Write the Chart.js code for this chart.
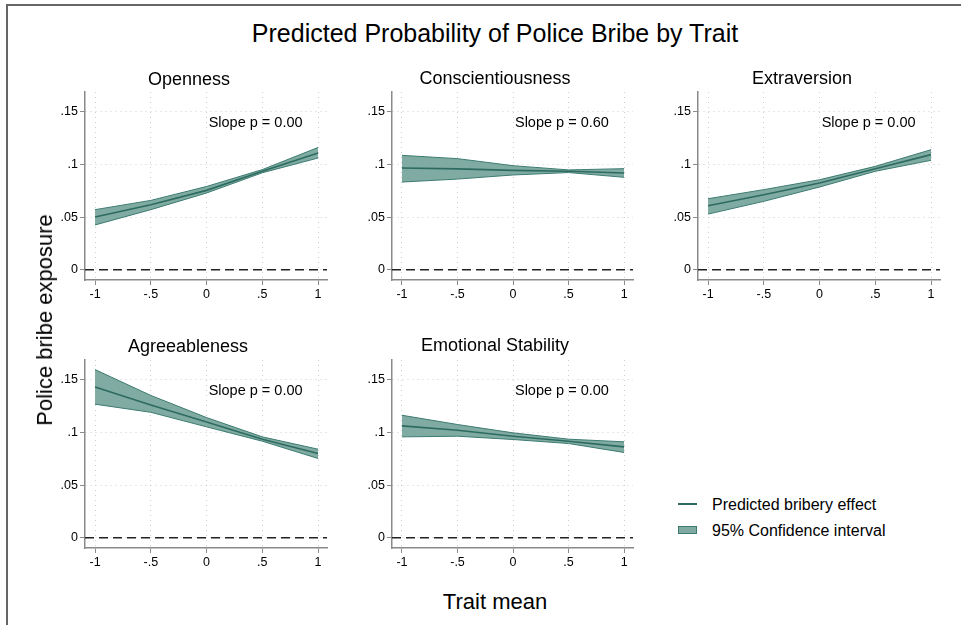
<!DOCTYPE html>
<html><head><meta charset="utf-8">
<script src="https://cdn.jsdelivr.net/npm/chart.js@4.4.0/dist/chart.umd.min.js"></script>
<style>
body{margin:0;background:#fff;width:961px;height:625px;overflow:hidden;position:relative;font-family:"Liberation Sans",Arial,Helvetica,sans-serif;}
.frame{position:absolute;left:6px;top:4px;width:970px;height:640px;border-left:2px solid #666;border-top:2px solid #666;}
.panel{position:absolute;}
.txt{position:absolute;white-space:nowrap;color:#000;transform:translate(-50%,-50%);z-index:5;line-height:1;}
.leg{position:absolute;white-space:nowrap;color:#000;font-size:16px;line-height:1;transform:translateY(-50%);z-index:5;}
</style></head><body>
<div class="frame"></div>
<div class="txt" style="left:495px;top:33px;font-size:25px;">Predicted Probability of Police Bribe by Trait</div>
<div class="txt" style="left:45px;top:320px;font-size:22px;transform:translate(-50%,-50%) rotate(-90deg);">Police bribe exposure</div>
<div class="txt" style="left:495px;top:602px;font-size:22px;">Trait mean</div>
<div id="titles"></div>
<canvas id="c0" class="panel" width="296" height="225" style="left:35px;top:80px;"></canvas>
<canvas id="c1" class="panel" width="295" height="225" style="left:342px;top:80px;"></canvas>
<canvas id="c2" class="panel" width="296" height="225" style="left:648px;top:80px;"></canvas>
<canvas id="c3" class="panel" width="296" height="225" style="left:35px;top:348px;"></canvas>
<canvas id="c4" class="panel" width="295" height="225" style="left:342px;top:348px;"></canvas>
<div style="position:absolute;left:678px;top:503px;width:19px;height:2px;background:#2d6b60;"></div>
<div class="leg" style="left:712px;top:505px;">Predicted bribery effect</div>
<div style="position:absolute;left:678px;top:526px;width:17px;height:6px;background:#80aba2;border:1px solid #3b7b70;"></div>
<div class="leg" style="left:712px;top:531px;">95% Confidence interval</div>
<script>
// ---- data ----
const traitX = [-1, -0.5, 0, 0.5, 1];
const xTickLabels = ['-1', '-.5', '0', '.5', '1'];
const yTicks = [0, 0.05, 0.1, 0.15];
const yTickLabels = ['0', '.05', '.1', '.15'];
const traits = ['Openness', 'Conscientiousness', 'Extraversion', 'Agreeableness', 'Emotional Stability'];
const slopeP = ['0.00', '0.60', '0.00', '0.00', '0.00'];

const opennessFit = [0.0500, 0.0617, 0.0753, 0.0934, 0.1108];
const opennessLo  = [0.0425, 0.0570, 0.0728, 0.0920, 0.1060];
const opennessHi  = [0.0570, 0.0658, 0.0790, 0.0950, 0.1160];

const conscFit = [0.0965, 0.0957, 0.0943, 0.0934, 0.0918];
const conscLo  = [0.0832, 0.0860, 0.0899, 0.0922, 0.0877];
const conscHi  = [0.1085, 0.1054, 0.0987, 0.0947, 0.0959];

const extraFit = [0.0608, 0.0712, 0.0823, 0.0959, 0.1092];
const extraLo  = [0.0528, 0.0649, 0.0785, 0.0934, 0.1038];
const extraHi  = [0.0674, 0.0760, 0.0854, 0.0981, 0.1139];

const agreeFit = [0.1431, 0.1260, 0.1099, 0.0935, 0.0799];
const agreeLo  = [0.1267, 0.1190, 0.1052, 0.0916, 0.0752];
const agreeHi  = [0.1595, 0.1350, 0.1140, 0.0957, 0.0840];

const emoFit = [0.1061, 0.1020, 0.0963, 0.0916, 0.0862];
const emoLo  = [0.0957, 0.0963, 0.0932, 0.0894, 0.0809];
const emoHi  = [0.1162, 0.1074, 0.0995, 0.0935, 0.0910];

const fits = [opennessFit, conscFit, extraFit, agreeFit, emoFit];
const los = [opennessLo, conscLo, extraLo, agreeLo, emoLo];
const his = [opennessHi, conscHi, extraHi, agreeHi, emoHi];

// ---- styles / layout ----
const FONT = 'Liberation Sans, Arial, Helvetica, sans-serif';
Chart.defaults.font.family = FONT;
const LINE = '#2d6b60', EDGE = '#3b7b70', FILL = '#80aba2';
const AXIS = '#8a8a8a', GRID = '#cfcfcf';
const titlePos = [[189, 79], [495, 78], [802, 78], [188, 346], [495, 345]];
const slopeAt = {x: 0.44, y: 0.139};

const titles = document.getElementById('titles');
traits.forEach((t, i) => {
  const d = document.createElement('div');
  d.className = 'txt';
  d.style.cssText = `left:${titlePos[i][0]}px;top:${titlePos[i][1]}px;font-size:18px;`;
  d.textContent = t;
  titles.appendChild(d);
});

const zeroLine = {
  id: 'zeroLine',
  beforeDatasetsDraw(chart) {
    const {ctx, chartArea, scales} = chart;
    const y = scales.y.getPixelForValue(0);
    ctx.save();
    ctx.strokeStyle = '#222';
    ctx.lineWidth = 1.3;
    ctx.setLineDash([9, 5]);
    ctx.beginPath();
    ctx.moveTo(chartArea.left, y);
    ctx.lineTo(chartArea.right, y);
    ctx.stroke();
    ctx.restore();
  }
};
const slopeText = {
  id: 'slopeText',
  afterDatasetsDraw(chart, args, opts) {
    const {ctx, scales} = chart;
    ctx.save();
    ctx.font = '14.5px ' + FONT;
    ctx.fillStyle = '#000';
    ctx.textAlign = 'center';
    ctx.textBaseline = 'middle';
    ctx.fillText('Slope p = ' + opts.p, scales.x.getPixelForValue(slopeAt.x), scales.y.getPixelForValue(slopeAt.y));
    ctx.restore();
  }
};

function pts(arr) { return traitX.map((x, i) => ({x, y: arr[i]})); }

for (let i = 0; i < 5; i++) {
  new Chart(document.getElementById('c' + i), {
    type: 'line',
    data: {
      datasets: [
        {label: 'Predicted bribery effect', data: pts(fits[i]), borderColor: LINE, borderWidth: 1.6, pointRadius: 0, fill: false, tension: 0},
        {label: 'upper', data: pts(his[i]), borderColor: EDGE, borderWidth: 1, pointRadius: 0, backgroundColor: FILL, fill: '+1', tension: 0},
        {label: 'lower', data: pts(los[i]), borderColor: EDGE, borderWidth: 1, pointRadius: 0, fill: false, tension: 0}
      ]
    },
    options: {
      responsive: false, animation: false, events: [],
      layout: {padding: {top: 12, right: 4, left: 0, bottom: 0}},
      plugins: {legend: {display: false}, tooltip: {enabled: false}, filler: {drawTime: 'beforeDatasetsDraw'}, slopeText: {p: slopeP[i]}},
      scales: {
        x: {
          type: 'linear', min: -1.09, max: 1.08,
          afterBuildTicks: s => { s.ticks = traitX.map(v => ({value: v})); },
          afterFit: s => { s.height = 25; },
          ticks: {callback: (v) => xTickLabels[traitX.indexOf(v)], color: '#000', font: {size: 12.5}, padding: 2, maxRotation: 0, autoSkip: false},
          grid: {color: GRID, lineWidth: 1, tickColor: AXIS, tickLength: 5, tickWidth: 1, tickBorderDash: []},
          border: {color: AXIS, width: 1.5, dash: [1, 4]}
        },
        y: {
          type: 'linear', min: -0.0097, max: 0.1686,
          afterBuildTicks: s => { s.ticks = yTicks.map(v => ({value: v})); },
          afterFit: s => { s.width = 50; },
          ticks: {callback: (v) => yTickLabels[yTicks.indexOf(v)], color: '#000', font: {size: 12.5}, padding: 2, autoSkip: false},
          grid: {color: GRID, lineWidth: 1, tickColor: AXIS, tickLength: 5, tickWidth: 1, tickBorderDash: []},
          border: {color: AXIS, width: 1.5, dash: [1, 4]}
        }
      }
    },
    plugins: [zeroLine, slopeText]
  });
}
</script>
</body></html>
